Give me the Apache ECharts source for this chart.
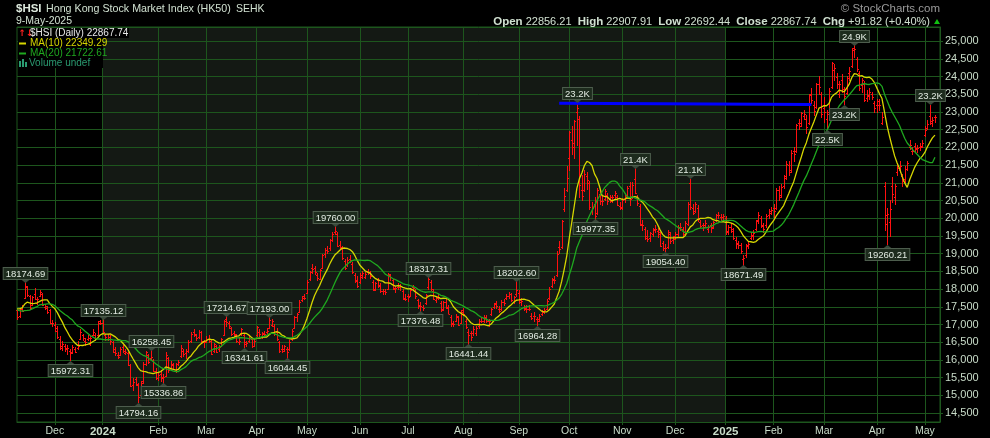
<!DOCTYPE html>
<html><head><meta charset="utf-8">
<script src="https://cdn.jsdelivr.net/npm/echarts@6/dist/echarts.min.js"></script>
<style>html,body{margin:0;padding:0;background:#000;}#c{width:990px;height:438px;}</style>
</head><body><div id="c"></div>
<script>
// ---------- DATA ----------
const months = ['2023-11','2023-12','2024-01','2024-02','2024-03','2024-04','2024-05','2024-06','2024-07','2024-08','2024-09','2024-10','2024-11','2024-12','2025-01','2025-02','2025-03','2025-04','2025-05'];
const daysByMonth = [
 [10,13,14,15,16,17,20,21,22,23,24,27,28,29,30],
 [1,4,5,6,7,8,11,12,13,14,15,18,19,20,21,22,27,28,29],
 [2,3,4,5,8,9,10,11,12,15,16,17,18,19,22,23,24,25,26,29,30,31],
 [1,2,5,6,7,8,9,14,15,16,19,20,21,22,23,26,27,28,29],
 [1,4,5,6,7,8,11,12,13,14,15,18,19,20,21,22,25,26,27,28],
 [2,3,5,8,9,10,11,12,15,16,17,18,19,22,23,24,25,26,29,30],
 [2,3,6,7,8,9,10,13,14,16,17,20,21,22,23,24,27,28,29,30,31],
 [3,4,5,6,7,11,12,13,14,17,18,19,20,21,24,25,26,27,28],
 [2,3,4,5,8,9,10,11,12,15,16,17,18,19,22,23,24,25,26,29,30,31],
 [1,2,5,6,7,8,9,12,13,14,15,16,19,20,21,22,23,26,27,28,29,30],
 [2,3,4,5,6,9,10,11,12,13,16,17,19,20,23,24,25,26,27,30],
 [2,3,4,7,8,9,10,14,15,16,17,18,21,22,23,24,25,28,29,30,31],
 [1,4,5,6,7,8,11,12,13,14,15,18,19,20,21,22,25,26,27,28,29],
 [2,3,4,5,6,9,10,11,12,13,16,17,18,19,20,23,24,27,30,31],
 [2,3,6,7,8,9,10,13,14,15,16,17,20,21,22,23,24,27,28],
 [3,4,5,6,7,10,11,12,13,14,17,18,19,20,21,24,25,26,27,28],
 [3,4,5,6,7,10,11,12,13,14,17,18,19,20,21,24,25,26,27,28,31],
 [1,2,3,7,8,9,10,11,14,15,16,17,22,23,24,25,28,29,30],
 [2,6,7,8,9]
];
// closes before the first visible bar (needed for MA(10)/MA(20) at the left edge)
const preCloses = [17813,17640,17773,17732,17295,17172,16991,17086,16918,17399,17406,17112,17101,17231,17664,17966,17671,17569,17511];
const openRows = [
 [17400,17250,17450,17760,18050,17800,17560,17850,17600,17800,17850,17500,17480,17400,17050],
 [17000,16900,16600,16400,16400,16300,16250,16230,16300,16350,16600,16700,16550,16600,16450,16700,16700,16700,17100],
 [17050,16700,16600,16650,16500,16300,16150,16150,16380,16200,16200,15850,15300,15450,15300,15000,15400,15900,16150,16050,16000,15700],
 [15500,15600,15500,15550,16050,15750,15850,15700,15900,16100,16250,16200,16250,16550,16800,16700,16650,16780,16500],
 [16550,16600,16550,16250,16400,16300,16400,16700,17150,17050,16900,16750,16700,16500,16750,16700,16450,16550,16600,16400],
 [16700,16800,16650,16750,16800,16900,17000,16950,16800,16500,16300,16300,16300,16300,16600,16900,17200,17350,17700,17800],
 [17900,18300,18600,18600,18400,18300,18600,19000,19100,19150,19400,19600,19550,19250,19150,18800,18700,18850,18700,18400,18250],
 [18200,18350,18350,18500,18450,18200,18000,18250,18100,17950,17950,18000,18400,18250,18000,18050,18050,17950,17750],
 [17800,17800,18050,17950,17700,17550,17500,17600,18050,18200,17950,17700,17750,17600,17450,17650,17500,17200,17050,17100,17200,17050],
 [17400,17100,16800,16750,16750,16750,16950,17100,17100,17200,17100,17300,17500,17600,17450,17450,17650,17750,17800,17850,17650,17850],
 [17900,17700,17500,17450,17450,17250,17250,17150,17150,17300,17350,17450,17750,18100,18300,18400,19200,19200,20250,20800],
 [21700,22200,22000,23000,22800,20800,20800,21200,21000,20200,20400,20150,20700,20500,20550,20650,20550,20500,20650,20600,20350],
 [20300,20550,20600,20900,20600,21100,20600,20350,19800,19700,19500,19450,19550,19700,19650,19550,19300,19150,19200,19550,19400],
 [19500,19550,19750,19700,19600,19850,21000,20300,20200,20300,19900,19800,19800,19700,19800,19750,19950,20100,20050,20050],
 [20000,19650,19750,19650,19400,19300,19250,18850,18950,19250,19450,19500,19700,19950,20000,19800,19800,20100,20150],
 [20300,20300,20800,20650,20900,21200,21500,21350,21900,21900,22700,22700,22900,22800,22700,23500,23200,23150,23800,23500],
 [23100,22800,23000,23700,24200,24000,23500,23900,23650,23550,24100,24300,24800,24500,24100,23750,23800,23400,23450,23500,23250],
 [23200,23300,22700,20900,20100,19900,20900,20600,21300,21350,21200,21100,21400,22000,21900,22050,21950,22000,22050],
 [22350,22550,22900,22750,22856.21]
];
const highRows = [
 [17420,17460,17530,18174.69,18080,17830,17800,18010,17760,17950,17880,17560,17500,17420,17120],
 [17050,16950,16650,16520,16450,16420,16290,16420,16350,16520,16850,16720,16600,16700,16650,16850,16750,17080,17120],
 [17135.12,16720,16720,16700,16520,16350,16200,16350,16400,16300,16220,15880,15480,15500,15340,15400,15930,16240,16160,16258.45,16020,15750],
 [15650,15700,15600,16200,16080,15950,15900,15900,16000,16400,16300,16300,16550,16780,16850,16720,16830,16800,16550],
 [16650,16680,16560,16480,16420,16400,16620,17120,17214.67,17100,16920,16800,16720,16600,16900,16720,16520,16700,16620,16560],
 [16950,16850,16780,16800,16900,17193,17150,17000,16900,16520,16400,16420,16350,16550,16850,17220,17300,17680,17800,17850],
 [18250,18500,18700,18650,18450,18560,18980,19150,19200,19400,19600,19760,19600,19350,19200,18850,18900,18950,18750,18450,18350],
 [18450,18500,18480,18550,18500,18250,18200,18300,18150,18000,18000,18450,18420,18280,18080,18150,18120,17980,17850],
 [17850,18000,18100,17980,17720,17620,17550,17850,18317.31,18250,17980,17800,17850,17650,17650,17700,17550,17250,17100,17280,17220,17400],
 [17450,17150,16850,16800,16950,16950,17150,17200,17250,17250,17150,17450,17600,17650,17500,17680,17700,17850,17900,17880,17800,18202.6],
 [17950,17750,17550,17550,17550,17300,17350,17200,17280,17400,17450,17700,18050,18300,18350,19050,19350,19950,20850,21450],
 [22450,22600,22750,23241,22880,21200,21350,21300,21050,20450,20600,20850,20750,20650,20800,20700,20650,20650,20750,20650,20450],
 [20550,20700,20900,21000,21000,21400,20650,20400,19950,19750,19650,19600,19700,19800,19700,19600,19350,19250,19650,19600,19500],
 [19600,19800,19850,19750,19900,20450,21100,20400,20450,20350,19950,19850,19950,19800,19850,19900,20100,20150,20100,20120],
 [20050,19800,19850,19700,19450,19350,19300,18950,19250,19350,19600,19650,19950,20150,20050,19850,20100,20250,20300],
 [20400,20850,20900,20950,21200,21600,21600,21900,22000,22650,22800,23000,23050,22900,23500,23650,23300,23800,24000,23550],
 [23400,23050,23650,24400,24350,24100,23850,24050,23700,24000,24250,24800,24874,24550,24150,23950,23850,23600,23650,23550,23300],
 [23350,23350,23000,21018,20270,20500,21160,20950,21550,21600,21250,21450,21600,22200,22000,22100,22050,22100,22200],
 [22600,22750,23190,22850,22907.91]
];
const lowRows = [
 [17150,17200,17360,17730,17780,17420,17540,17700,17560,17780,17540,17430,17300,17030,16950],
 [16800,16600,16300,16280,16250,16150,15972.31,16180,16200,16300,16580,16560,16420,16550,16400,16680,16550,16690,16990],
 [16760,16560,16550,16450,16200,16140,16050,16130,16200,16150,15850,15260,15150,15280,14794.16,14980,15350,15850,15900,16000,15680,15460],
 [15430,15400,15336.86,15530,15650,15700,15720,15650,15850,16080,16100,16050,16200,16500,16650,16550,16600,16480,16350],
 [16480,16500,16150,16200,16200,16250,16380,16680,16950,16900,16680,16650,16480,16450,16700,16341.61,16380,16500,16360,16380],
 [16650,16650,16600,16650,16750,16880,16950,16700,16550,16200,16200,16250,16044.45,16280,16550,16880,17100,17330,17650,17700],
 [17880,18250,18450,18400,18250,18280,18580,18900,19000,19100,19350,19550,19200,19150,18850,18550,18650,18750,18450,18200,18050],
 [18150,18300,18300,18400,18300,17950,17950,18050,17900,17850,17850,17980,18250,17980,17900,18000,17950,17700,17680],
 [17650,17780,17950,17750,17450,17376.48,17400,17580,18000,17950,17700,17620,17700,17380,17400,17450,17300,16950,16950,17080,16980,17030],
 [17250,16900,16441.44,16550,16700,16700,16900,17050,17050,17050,16950,17250,17450,17450,17350,17400,17550,17700,17750,17650,17600,17800],
 [17600,17550,17400,17350,17400,17150,17100,16964.28,17100,17250,17300,17420,17700,18050,18150,18350,19000,19150,20200,20750],
 [21350,21800,21700,22050,20600,20500,20750,20800,20250,20100,19977.35,20100,20400,20350,20500,20400,20450,20450,20550,20350,20250],
 [20250,20450,20550,20350,20550,20700,20350,19800,19650,19400,19350,19350,19500,19600,19450,19200,19100,19054.4,19150,19300,19300],
 [19400,19500,19650,19500,19580,19800,20250,20100,20150,19900,19750,19650,19750,19600,19600,19700,19900,20000,19950,19980],
 [19550,19550,19600,19400,19150,19150,19000,18671.49,18900,19150,19400,19400,19650,19850,19750,19600,19750,20000,20100],
 [20000,20250,20500,20600,20850,21100,21200,21300,21600,21850,22500,22600,22800,22400,22650,23250,22900,23100,23500,22850],
 [22700,22500,22950,23650,23900,23650,23400,23550,23200,23500,23900,24250,24550,24150,23600,23550,23300,23300,23350,23350,23000],
 [23000,23050,22650,19650,19260.21,19500,20460,20400,21200,21300,20900,21000,21350,21950,21800,21850,21850,21900,22000],
 [22300,22500,22650,22600,22692.44]
];
const closeRows = [
 [17203,17427,17396,18079,17832,17454,17778,17733,17734,17911,17559,17525,17354,17038,17042],
 [16830,16646,16327,16463,16345,16334,16201,16374,16228,16402,16792,16629,16505,16613,16621,16792,16625,17043,17047],
 [16789,16646,16646,16535,16224,16191,16098,16302,16245,16217,15865,15277,15391,15309,14961,15353,15899,16212,15952,16077,15703,15485],
 [15566,15533,15510,16133,15708,15878,15746,15879,15944,16340,16156,16248,16503,16742,16726,16634,16790,16536,16511],
 [16589,16595,16163,16438,16230,16353,16588,17093,17082,16962,16721,16737,16529,16543,16863,16499,16473,16618,16392,16541],
 [16931,16725,16724,16732,16828,17139,17095,16721,16600,16248,16251,16386,16224,16512,16829,17201,17285,17651,17747,17763],
 [18207,18476,18578,18479,18314,18538,18964,19115,19073,19376,19554,19636,19221,19195,18868,18609,18828,18821,18477,18231,18079],
 [18403,18444,18424,18476,18367,17976,18176,18113,17942,17936,17915,18430,18335,18028,18027,18072,18089,17716,17719],
 [17769,17979,18028,17800,17524,17523,17471,17832,18293,18015,17727,17739,17778,17417,17635,17469,17311,17005,17021,17238,17002,17344],
 [17304,16945,16698,16647,16877,16891,17090,17112,17174,17113,17110,17430,17569,17511,17391,17641,17612,17798,17875,17692,17786,17989],
 [17651,17652,17457,17444,17444,17196,17234,17108,17240,17369,17422,17660,18013,18258,18247,19000,19129,19925,20632,21133],
 [22444,22114,22737,23100,20927,20637,21252,21092,20319,20286,20079,20804,20478,20498,20760,20490,20590,20599,20701,20381,20317],
 [20506,20567,20845,20538,20954,20728,20427,19847,19823,19435,19426,19576,19664,19706,19601,19230,19151,19159,19603,19366,19424],
 [19551,19746,19742,19560,19866,20414,20311,20155,20397,19971,19795,19746,19865,19752,19720,19883,20098,20091,20041,20060],
 [19623,19760,19689,19447,19280,19240,19064,18874,19219,19286,19522,19584,19926,20107,19779,19700,20066,20198,20225],
 [20217,20790,20597,20891,21133,21521,21294,21857,21814,22620,22616,22976,22944,22577,23478,23341,23035,23788,23718,22941],
 [23006,22941,23594,24370,24231,23783,23782,23600,23462,23959,24145,24740,24771,24219,23690,23906,23344,23483,23578,23426,23120],
 [23206,23202,22849,19828,20128,20264,20682,20915,21418,21467,21057,21395,21562,22072,21909,21980,21972,22008,22119],
 [22505,22663,22692,22775.92,22867.74]
];
// swing-point annotations
const annDates  = ['2023-11-15','2023-12-11','2024-01-02','2024-01-22','2024-01-29','2024-02-05','2024-03-13','2024-03-22','2024-04-10','2024-04-19','2024-05-20','2024-07-12','2024-07-09','2024-08-05','2024-08-30','2024-09-11','2024-10-07','2024-10-17','2024-11-08','2024-11-26','2024-12-10','2025-01-13','2025-03-04','2025-03-13','2025-03-19','2025-04-08','2025-05-07'];
const annValues = [18174.69,15972.31,17135.12,14794.16,16258.45,15336.86,17214.67,16341.61,17193.00,16044.45,19760.00,18317.31,17376.48,16441.44,18202.60,16964.28,23241,19977.35,21400,19054.40,21100,18671.49,22500,23200,24874,19260.21,23190];
const annTexts  = ['18174.69','15972.31','17135.12','14794.16','16258.45','15336.86','17214.67','16341.61','17193.00','16044.45','19760.00','18317.31','17376.48','16441.44','18202.60','16964.28','23.2K','19977.35','21.4K','19054.40','21.1K','18671.49','22.5K','23.2K','24.9K','19260.21','23.2K'];
const annSides  = ['h','l','h','l','h','l','h','l','h','l','h','h','l','l','h','l','h','l','h','l','h','l','l','l','h','l','h'];
// blue trend line
const trendDates  = ['2024-09-25','2025-02-24'];
const trendValues = [23250,23215];
// shaded year
const shadeDates = ['2024-01-02','2025-01-02'];
// header values
const quoteOpen = '22856.21', quoteHigh = '22907.91', quoteLow = '22692.44', quoteClose = '22867.74', quoteChg = '+91.82 (+0.40%)';
const lastClose = '22867.74', ma10Last = '22349.29', ma20Last = '21722.61';
const monthNames = ['Jan','Feb','Mar','Apr','May','Jun','Jul','Aug','Sep','Oct','Nov','Dec'];

// ---------- BUILD ----------
const dates = [];
months.forEach((m,k)=>daysByMonth[k].forEach(d=>dates.push(m+'-'+String(d).padStart(2,'0'))));
const flat = rows => [].concat(...rows);
const opens = flat(openRows), highs = flat(highRows), lows = flat(lowRows), closes = flat(closeRows);
const cats = dates.concat(['~pad1','~pad2']);
const allC = preCloses.concat(closes);
function ma(n){
  return closes.map((_,i)=>{
    const j = i + preCloses.length;
    if (j < n-1) return null;
    let s = 0; for (let k=j-n+1;k<=j;k++) s += allC[k];
    return +(s/n).toFixed(2);
  });
}
const ma10 = ma(10), ma20 = ma(20);
const isMonthStart = (i)=> i>0 && i<dates.length && dates[i].slice(0,7)!==dates[i-1].slice(0,7);
const ohlc = dates.map((d,i)=>[i, opens[i], highs[i], lows[i], closes[i]]);
const annData = annDates.map((d,k)=>[dates.indexOf(d), annValues[k], k]);

const GRID = '#1d561d';
const TXT = '#c9dcc9';
const FONT = '"Liberation Sans", Arial, sans-serif';

const graphics = [
    {type:'text', x:16, y:9, style:{text:'$HSI', font:'bold 11.5px '+FONT, fill:'#dde9dd', verticalAlign:'middle'}},
    {type:'text', x:46, y:9, style:{text:'Hong Kong Stock Market Index (HK50)', font:'10.7px '+FONT, fill:'#d0e0d0', verticalAlign:'middle'}},
    {type:'text', x:236, y:9, style:{text:'SEHK', font:'10.5px '+FONT, fill:'#d0e0d0', verticalAlign:'middle'}},
    {type:'text', x:16, y:21.5, style:{text:'9-May-2025', font:'10.5px '+FONT, fill:'#d0e0d0', verticalAlign:'middle'}},
    {type:'text', x:940, y:9, style:{text:'© StockCharts.com', font:'11.5px '+FONT, fill:'#9a9a9a', align:'right', verticalAlign:'middle'}},
    {type:'text', x:930, y:21.5, style:{
      text:'{b|Open} '+quoteOpen+'  {b|High} '+quoteHigh+'  {b|Low} '+quoteLow+'  {b|Close} '+quoteClose+'  {b|Chg} '+quoteChg,
      font:'11px '+FONT, fill:'#d0e0d0', align:'right', verticalAlign:'middle',
      rich:{b:{fontWeight:'bold', fontSize:11.5, fontFamily:FONT, fill:'#d0e0d0'}}
    }},
    {type:'polygon', shape:{points:[[934,24],[940,24],[937,19]]}, style:{fill:'#10c010'}},
    // legend
    {type:'rect', shape:{x:18, y:28, width:111, height:10}, style:{fill:'#000'}},
    {type:'rect', shape:{x:18, y:38, width:85, height:30}, style:{fill:'#000'}},
    {type:'text', x:18.5, y:33.5, style:{text:'↑↓', font:'bold 9px "DejaVu Sans"', fill:'#ff2020', verticalAlign:'middle'}},
    {type:'text', x:30, y:33.5, style:{text:'$HSI (Daily) '+lastClose, font:'10px '+FONT, fill:'#e8e8e8', verticalAlign:'middle'}},
    {type:'rect', shape:{x:19, y:42.5, width:7, height:2}, style:{fill:'#d6d600'}},
    {type:'text', x:30, y:43.5, style:{text:'MA(10) '+ma10Last, font:'10px '+FONT, fill:'#d6d600', verticalAlign:'middle'}},
    {type:'rect', shape:{x:19, y:52.5, width:7, height:2}, style:{fill:'#1fa81f'}},
    {type:'text', x:30, y:53.5, style:{text:'MA(20) '+ma20Last, font:'10px '+FONT, fill:'#1fa81f', verticalAlign:'middle'}},
    {type:'rect', shape:{x:19, y:61, width:2, height:6}, style:{fill:'#2a9a70'}},
    {type:'rect', shape:{x:22, y:59, width:2, height:8}, style:{fill:'#2a9a70'}},
    {type:'rect', shape:{x:25, y:62, width:2, height:5}, style:{fill:'#2a9a70'}},
    {type:'text', x:29, y:63.5, style:{text:'Volume undef', font:'10px '+FONT, fill:'#2a9a70', verticalAlign:'middle'}}
].map(g => Object.assign({z:100, zlevel:1}, g));

const chart = echarts.init(document.getElementById('c'), null, {renderer:'canvas', width:990, height:438});
chart.setOption({
  backgroundColor:'#000',
  animation:false,
  grid:{left:17, right:50, top:27, bottom:16, show:true, borderColor:GRID, borderWidth:1, backgroundColor:'transparent', containLabel:false, outerBoundsMode:'none'},
  xAxis:{
    type:'category', data:cats, boundaryGap:false, z:1,
    axisLine:{show:true, lineStyle:{color:GRID}},
    axisTick:{show:true, length:3, interval:(i)=>isMonthStart(i), lineStyle:{color:GRID}},
    splitLine:{show:true, interval:(i)=>isMonthStart(i), lineStyle:{color:GRID, width:1}},
    axisLabel:{
      interval:(i)=>isMonthStart(i), margin:4, color:TXT, fontSize:10.5, fontFamily:FONT,
      formatter:(v)=>{ const mo = +v.slice(5,7); return mo===1 ? '{y|'+v.slice(0,4)+'}' : monthNames[mo-1]; },
      rich:{y:{fontWeight:'bold', fontSize:11.5, color:TXT, fontFamily:FONT}}
    }
  },
  yAxis:{
    type:'value', position:'right', min:14250, max:25400, splitNumber:22, z:1, scale:true,
    axisLine:{show:true, lineStyle:{color:GRID}},
    axisTick:{show:true, length:3, lineStyle:{color:GRID}},
    splitLine:{show:true, lineStyle:{color:GRID, width:1}},
    axisLabel:{color:TXT, fontSize:11, fontFamily:FONT, margin:5, showMinLabel:false, showMaxLabel:false}
  },
  series:[
    { // 2024 shading
      type:'custom', z:0, silent:true,
      data:[[dates.indexOf(shadeDates[0]), dates.indexOf(shadeDates[1])]],
      encode:{x:[0,1]},
      renderItem:(params, api)=>{
        const a = api.coord([api.value(0), 14250]), b = api.coord([api.value(1), 25400]);
        return {type:'rect', shape:{x:Math.round(a[0]), y:b[1], width:Math.round(b[0])-Math.round(a[0]), height:a[1]-b[1]}, style:{fill:'#141914'}};
      }
    },
    { // OHLC bars
      type:'custom', z:2, silent:true, data:ohlc, encode:{x:0, y:[1,2,3,4]},
      renderItem:(params, api)=>{
        const i = api.value(0);
        const h = api.coord([i, api.value(2)]), l = api.coord([i, api.value(3)]);
        const o = api.coord([i, api.value(1)]), c = api.coord([i, api.value(4)]);
        const x = Math.round(h[0]) + 0.5;
        const oy = Math.round(o[1]) + 0.5, cy = Math.round(c[1]) + 0.5;
        const st = {stroke:'#ff1010', lineWidth:1};
        return {type:'group', children:[
          {type:'line', shape:{x1:x, y1:Math.floor(h[1]), x2:x, y2:Math.max(Math.ceil(l[1]), Math.floor(h[1])+2)}, style:st},
          {type:'line', shape:{x1:x-1.5, y1:oy, x2:x, y2:oy}, style:st},
          {type:'line', shape:{x1:x, y1:cy, x2:x+1.5, y2:cy}, style:st}
        ]};
      }
    },
    {
      type:'line', name:'MA(10)', data:ma10, showSymbol:false, z:3, silent:true,
      lineStyle:{color:'#d6d600', width:1.3},
      markLine:{
        silent:true, symbol:['none','none'], label:{show:false}, z:4,
        lineStyle:{color:'#0000ff', width:3, type:'solid'},
        data:[[{coord:[dates.indexOf(trendDates[0]), trendValues[0]]},{coord:[dates.indexOf(trendDates[1]), trendValues[1]]}]]
      }
    },
    {
      type:'line', name:'MA(20)', data:ma20, showSymbol:false, z:3, silent:true,
      lineStyle:{color:'#1fa81f', width:1.3}
    },
    { // annotations
      type:'custom', z:10, silent:true, data:annData, encode:{x:0, y:1},
      renderItem:(params, api)=>{
        const k = api.value(2);
        const p = api.coord([api.value(0), api.value(1)]);
        const x = Math.round(p[0]) + 0.5, y = Math.round(p[1]);
        const hi = annSides[k]==='h';
        const base = hi ? y-4 : y+4;
        return {type:'group', children:[
          {type:'polygon', shape:{points:[[x-5,base],[x+5,base],[x,y]]}, style:{fill:'#3b4a3b'}},
          {type:'text', x:x, y:base, style:{
            text:annTexts[k], fill:'#e2ebe2', font:'9.5px '+FONT, align:'center',
            verticalAlign: hi ? 'bottom' : 'top',
            backgroundColor:'#1d2b1d', borderColor:'#4d5d4d', borderWidth:1, padding:[1,2,0,2]
          }}
        ]};
      }
    }
  ],
  graphic:graphics
});
</script>
</body></html>
